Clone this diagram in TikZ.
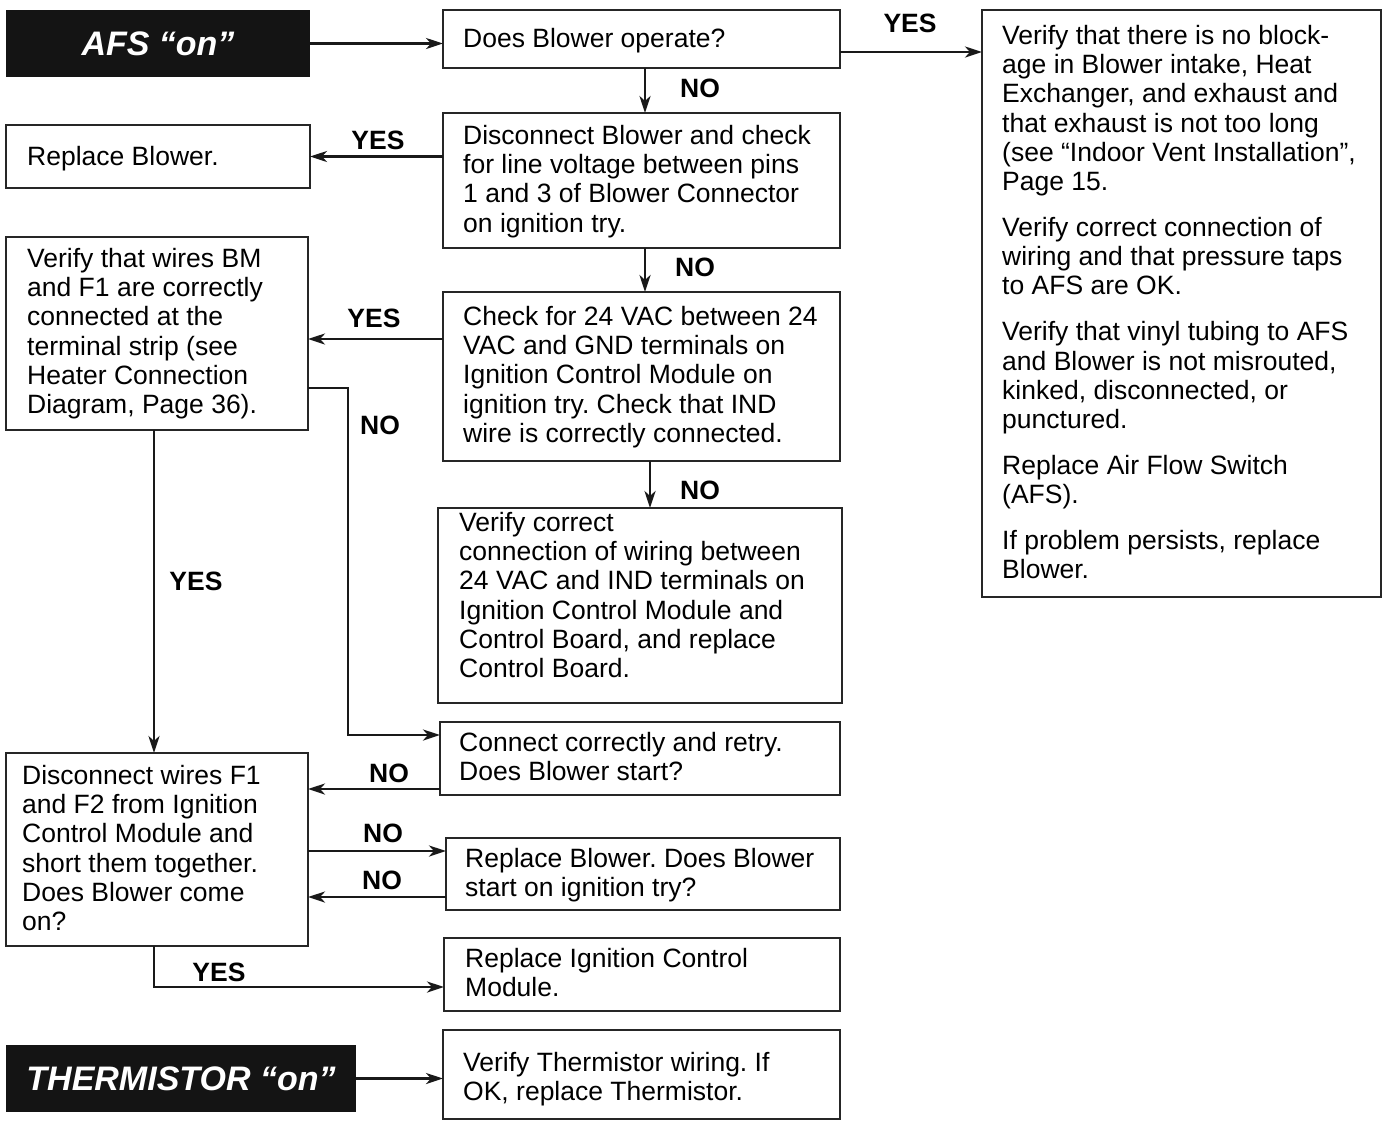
\documentclass[tikz,border=0pt]{standalone}
\usepackage{fontspec}
\setmainfont{Liberation Sans}
\usetikzlibrary{arrows.meta}
\frenchspacing
\tikzset{
  box/.style={draw=black!85, line width=1.5pt, inner sep=0pt, outer sep=0pt},
  blk/.style={fill=black!92, draw=none, inner sep=0pt, outer sep=0pt},
  txt/.style={anchor=north west, inner sep=0pt, align=left, font=\frenchspacing\fontsize{26.5}{29.2}\selectfont},
  lab/.style={inner sep=0pt, font=\bfseries\fontsize{26.5}{29}\selectfont},
  big/.style={inner sep=0pt, text=white, font=\bfseries\itshape\fontsize{34}{36}\selectfont},
  arr/.style={line width=2.6pt, draw=black!90, -{Stealth[length=17pt,width=11pt,inset=5pt]}},
}
\newcommand\mkbox[6][box]{\node[#1, minimum width={(#5-#3)*1pt}, minimum height={(#6-#4)*1pt}] (#2) at ({(#3+#5)/2},{(#4+#6)/2}) {};}
\begin{document}
\begin{tikzpicture}[x=1pt,y=-1pt]
\useasboundingbox (0,0) rectangle (1383,1120);
% boxes
\mkbox[blk]{afs}{6}{10}{310}{77}
\mkbox{does}{443}{10}{840}{68}
\mkbox{right}{982}{10}{1381}{597}
\mkbox{disc}{443}{113}{840}{248}
\mkbox{rb}{6}{125}{310}{188}
\mkbox{vbm}{6}{237}{308}{430}
\mkbox{check}{443}{292}{840}{461}
\mkbox{vc}{438}{508}{842}{703}
\mkbox{connect}{440}{722}{840}{795}
\mkbox{dw}{6}{753}{308}{946}
\mkbox{rbd}{446}{838}{840}{910}
\mkbox{ri}{444}{938}{840}{1011}
\mkbox[blk]{therm}{6}{1045}{356}{1112}
\mkbox{vt}{443}{1030}{840}{1119}
% texts
\node[big] (afst) at (afs.center) {AFS “on”};
\node[big] (thermt) at (therm.center) {THERMISTOR “on”};
\node[txt] (doest) at (463,28) {Does Blower operate?};
\node[txt] (disct) at (463,125) {Disconnect Blower and check\\for line voltage between pins\\1 and 3 of Blower Connector\\on ignition try.};
\node[txt] (rightt) at (1002,25) {Verify that there is no block-\\age in Blower intake, Heat\\Exchanger, and exhaust and\\that exhaust is not too long\\(see “Indoor Vent Installation”,\\Page 15.\\[16.8pt]Verify correct connection of\\wiring and that pressure taps\\to AFS are OK.\\[16.8pt]Verify that vinyl tubing to AFS\\and Blower is not misrouted,\\kinked, disconnected, or\\punctured.\\[16.8pt]Replace Air Flow Switch\\(AFS).\\[16.8pt]If problem persists, replace\\Blower.};
\node[txt] (rbt) at (27,146) {Replace Blower.};
\node[txt] (vbmt) at (27,248) {Verify that wires BM\\and F1 are correctly\\connected at the\\terminal strip (see\\Heater Connection\\Diagram, Page 36).};
\node[txt] (checkt) at (463,306) {Check for 24 VAC between 24\\VAC and GND terminals on\\Ignition Control Module on\\ignition try. Check that IND\\wire is correctly connected.};
\node[txt] (vct) at (459,512) {Verify correct\\connection of wiring between\\24 VAC and IND terminals on\\Ignition Control Module and\\Control Board, and replace\\Control Board.};
\node[txt] (connectt) at (459,732) {Connect correctly and retry.\\Does Blower start?};
\node[txt] (dwt) at (22,765) {Disconnect wires F1\\and F2 from Ignition\\Control Module and\\short them together.\\Does Blower come\\on?};
\node[txt] (rbdt) at (465,848) {Replace Blower. Does Blower\\start on ignition try?};
\node[txt] (rit) at (465,948) {Replace Ignition Control\\Module.};
\node[txt] (vtt) at (463,1052) {Verify Thermistor wiring. If\\OK, replace Thermistor.};
% labels
\node[lab] (l1) at (910,23) {YES};
\node[lab] (l2) at (700,88) {NO};
\node[lab] (l3) at (378,140) {YES};
\node[lab] (l4) at (695,267) {NO};
\node[lab] (l5) at (374,318) {YES};
\node[lab] (l6) at (380,425) {NO};
\node[lab] (l7) at (700,490) {NO};
\node[lab] (l8) at (196,581) {YES};
\node[lab] (l9) at (389,773) {NO};
\node[lab] (l10) at (383,833) {NO};
\node[lab] (l11) at (382,880) {NO};
\node[lab] (l12) at (219,972) {YES};
% connectors
\draw[arr] (afs.east) -- (afs.east -| does.west);
\coordinate (c1) at ([yshift=-13pt]does.east);
\draw[arr] (c1) -- (c1 -| right.west);
\coordinate (c2) at ([xshift=3.5pt]does.south);
\draw[arr] (c2) -- (c2 |- disc.north);
\draw[arr] (rb.east -| disc.west) -- (rb.east);
\coordinate (c3) at ([xshift=3.5pt]disc.south);
\draw[arr] (c3) -- (c3 |- check.north);
\coordinate (c4) at ([yshift=-5.5pt]vbm.east);
\draw[arr] (c4 -| check.west) -- (c4);
\coordinate (c5) at ([yshift=-54.5pt]vbm.east);
\coordinate (c6) at ([yshift=23.5pt]connect.west);
\draw[arr] (c5) -- ++(40,0) |- (c6);
\coordinate (c7) at ([xshift=-3pt]vbm.south);
\draw[arr] (c7) -- (c7 |- dw.north);
\coordinate (c8) at ([xshift=8.5pt]check.south);
\draw[arr] (c8) -- (c8 |- vc.north);
\coordinate (c9) at ([yshift=-30.5pt]connect.west);
\draw[arr] (c9) -- (c9 -| dw.east);
\coordinate (c10) at ([yshift=-1.5pt]dw.east);
\draw[arr] (c10) -- (c10 -| rbd.west);
\coordinate (c11) at ([yshift=-23pt]rbd.west);
\draw[arr] (c11) -- (c11 -| dw.east);
\coordinate (c12) at ([xshift=-3pt]dw.south);
\coordinate (c13) at ([yshift=-12.5pt]ri.west);
\draw[arr] (c12) |- (c13);
\draw[arr] (therm.east) -- (therm.east -| vt.west);
\end{tikzpicture}
\end{document}
